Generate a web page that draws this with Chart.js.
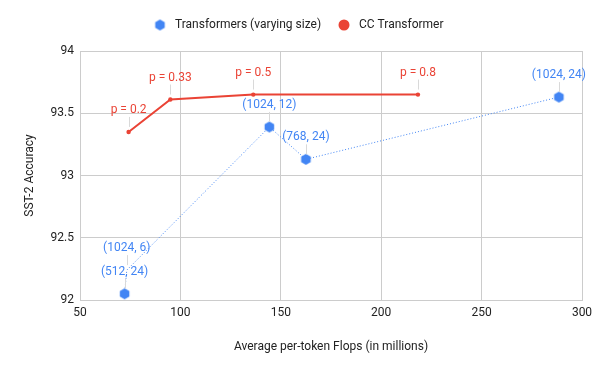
<!DOCTYPE html>
<html>
<head>
<meta charset="utf-8">
<script src="https://cdn.jsdelivr.net/npm/chart.js@4"></script>
<style>
  html, body { margin: 0; padding: 0; background: #fff; }
  #wrap { width: 600px; height: 371px; }
</style>
</head>
<body>
<div id="wrap"><canvas id="chart"></canvas></div>
<script>
// ========== DATA ==========
const seriesNames = ['Transformers (varying size)', 'CC Transformer'];

const sizeFlops = [72.2, 73.3, 144.3, 162.5, 288.5];
const sizeAcc = [92.05, 92.24, 93.39, 93.13, 93.63];
const sizeLabels = ['(512, 24)', '(1024, 6)', '(1024, 12)', '(768, 24)', '(1024, 24)'];

const ccFlops = [74.2, 95, 136.3, 218.3];
const ccAcc = [93.35, 93.61, 93.65, 93.65];
const ccLabels = ['p = 0.2', 'p = 0.33', 'p = 0.5', 'p = 0.8'];

const xTicks = [50, 100, 150, 200, 250, 300];
const yTicks = [92, 92.5, 93, 93.5, 94];

const COLORS = { blue: '#4285f4', red: '#ea4335', text: '#222222', grid: '#cccccc' };
const FONT = 'Roboto, Arial, sans-serif';

// hexagon marker for the first series
function makeHexagon(r, color) {
    const c = document.createElement('canvas');
    c.width = r * 2 + 2; c.height = r * 2 + 2;
    const g = c.getContext('2d');
    g.fillStyle = color;
    g.beginPath();
    for (let i = 0; i < 6; i++) {
        const a = Math.PI / 2 + i * Math.PI / 3;
        const px = r + 1 + r * Math.cos(a), py = r + 1 + r * Math.sin(a);
        if (i === 0) g.moveTo(px, py); else g.lineTo(px, py);
    }
    g.closePath();
    g.fill();
    return c;
}
const hexPoint = makeHexagon(5.5, COLORS.blue);

// ========== PLUGINS ==========
const pointLabels = {
    id: 'pointLabels',
    afterDatasetsDraw(chart) {
        const ctx = chart.ctx;
        chart.data.datasets.forEach((ds, i) => {
            const meta = chart.getDatasetMeta(i);
            meta.data.forEach((pt, j) => {
                const x = pt.x, y = pt.y;
                ctx.save();
                ctx.strokeStyle = '#d9d9d9';
                ctx.lineWidth = 1;
                ctx.beginPath();
                ctx.moveTo(Math.round(x) + 0.5, y - 5);
                ctx.lineTo(Math.round(x) + 0.5, y - 15);
                ctx.stroke();
                ctx.fillStyle = ds.borderColor;
                ctx.font = '12px ' + FONT;
                ctx.textAlign = 'center';
                ctx.textBaseline = 'middle';
                ctx.fillText(ds.pointTexts[j], x, y - 22);
                ctx.restore();
            });
        });
    }
};

const legendRow = {
    id: 'legendRow',
    afterDraw(chart) {
        const ctx = chart.ctx;
        ctx.save();
        ctx.font = '12px ' + FONT;
        ctx.textBaseline = 'middle';
        ctx.fillStyle = COLORS.text;
        const y = 25;
        ctx.drawImage(hexPoint, 160 - hexPoint.width / 2, y - hexPoint.height / 2);
        ctx.fillText(seriesNames[0], 175, y);
        ctx.fillStyle = COLORS.red;
        ctx.beginPath();
        ctx.arc(344, y, 5.5, 0, Math.PI * 2);
        ctx.fill();
        ctx.fillStyle = COLORS.text;
        ctx.fillText(seriesNames[1], 359, y);
        ctx.restore();
    }
};

// ========== CHART ==========
new Chart(document.getElementById('chart'), {
    type: 'scatter',
    data: {
        datasets: [
            {
                label: seriesNames[0],
                data: sizeFlops.map((x, i) => ({ x, y: sizeAcc[i] })),
                pointTexts: sizeLabels,
                showLine: true,
                borderColor: COLORS.blue,
                backgroundColor: COLORS.blue,
                borderWidth: 1,
                borderDash: [1, 2],
                pointStyle: hexPoint,
                pointRadius: [6, 0, 6, 6, 6]
            },
            {
                label: seriesNames[1],
                data: ccFlops.map((x, i) => ({ x, y: ccAcc[i] })),
                pointTexts: ccLabels,
                showLine: true,
                borderColor: COLORS.red,
                backgroundColor: COLORS.red,
                borderWidth: 2,
                pointRadius: 2.2,
                pointBorderWidth: 0
            }
        ]
    },
    options: {
        responsive: true, maintainAspectRatio: false, animation: false,
        layout: { padding: { top: 51, left: 19, right: 18, bottom: 13 } },
        plugins: { legend: { display: false }, tooltip: { enabled: false } },
        scales: {
            x: {
                type: 'linear', min: 50, max: 300,
                afterBuildTicks: s => { s.ticks = xTicks.map(v => ({ value: v })); },
                afterFit: s => { s.height = 58; },
                grid: { color: COLORS.grid, drawTicks: false },
                border: { color: COLORS.grid },
                ticks: { color: COLORS.text, font: { family: FONT, size: 12 }, padding: 6, callback: v => String(v) },
                title: { display: true, text: 'Average per-token Flops (in millions)', color: COLORS.text, font: { family: FONT, size: 12 } }
            },
            y: {
                min: 92, max: 94,
                afterBuildTicks: s => { s.ticks = yTicks.map(v => ({ value: v })); },
                afterFit: s => { s.width = 61; },
                grid: { color: COLORS.grid, drawTicks: false },
                border: { color: COLORS.grid },
                ticks: { color: COLORS.text, font: { family: FONT, size: 12 }, padding: 6, callback: v => String(v) },
                title: { display: true, text: 'SST-2 Accuracy', color: COLORS.text, font: { family: FONT, size: 12 } }
            }
        }
    },
    plugins: [pointLabels, legendRow]
});
</script>
</body>
</html>
